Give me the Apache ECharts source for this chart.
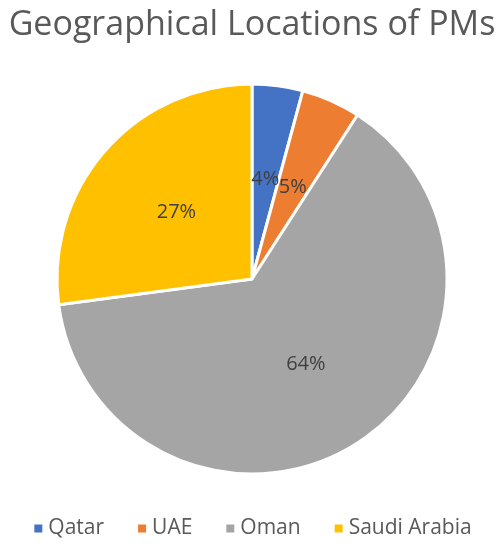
<!DOCTYPE html>
<html>
<head>
<meta charset="utf-8">
<script src="https://cdn.jsdelivr.net/npm/echarts@6/dist/echarts.min.js"></script>
<style>
  html, body { margin: 0; padding: 0; background: #fff; }
  #chart { width: 504px; height: 550px; }
</style>
</head>
<body>
<div id="chart"></div>
<script>
const categories = ['Qatar', 'UAE', 'Oman', 'Saudi Arabia']
const shares = [4.2, 4.9, 63.8, 27.1]
const colors = ['#4472C4', '#ED7D31', '#A5A5A5', '#FFC000']

const chart = echarts.init(document.getElementById('chart'))

const option = {
    color: colors,
    title: {
        text: 'Geographical Locations of PMs',
        left: 'center',
        top: 3,
        textStyle: {
            fontFamily: 'Open Sans',
            fontWeight: 'normal',
            fontSize: 34,
            color: '#595959'
        }
    },
    legend: {
        bottom: 6,
        left: 'center',
        itemWidth: 10,
        itemHeight: 10,
        itemGap: 32,
        icon: 'rect',
        textStyle: {
            fontFamily: 'Open Sans',
            fontSize: 21,
            color: '#595959'
        },
        data: categories
    },
    series: [{
        type: 'pie',
        center: [252, 279],
        radius: 195,
        startAngle: 90,
        clockwise: true,
        percentPrecision: 0,
        itemStyle: { borderColor: '#fff', borderWidth: 3 },
        label: {
            show: true,
            position: 'inside',
            formatter: '{d}%',
            fontFamily: 'Open Sans',
            fontSize: 20,
            color: '#404040'
        },
        labelLayout: { hideOverlap: false },
        labelLine: { show: false },
        emphasis: { disabled: true },
        data: categories.map((name, i) => ({ name, value: shares[i] }))
    }]
}

chart.setOption(option)
</script>
</body>
</html>
